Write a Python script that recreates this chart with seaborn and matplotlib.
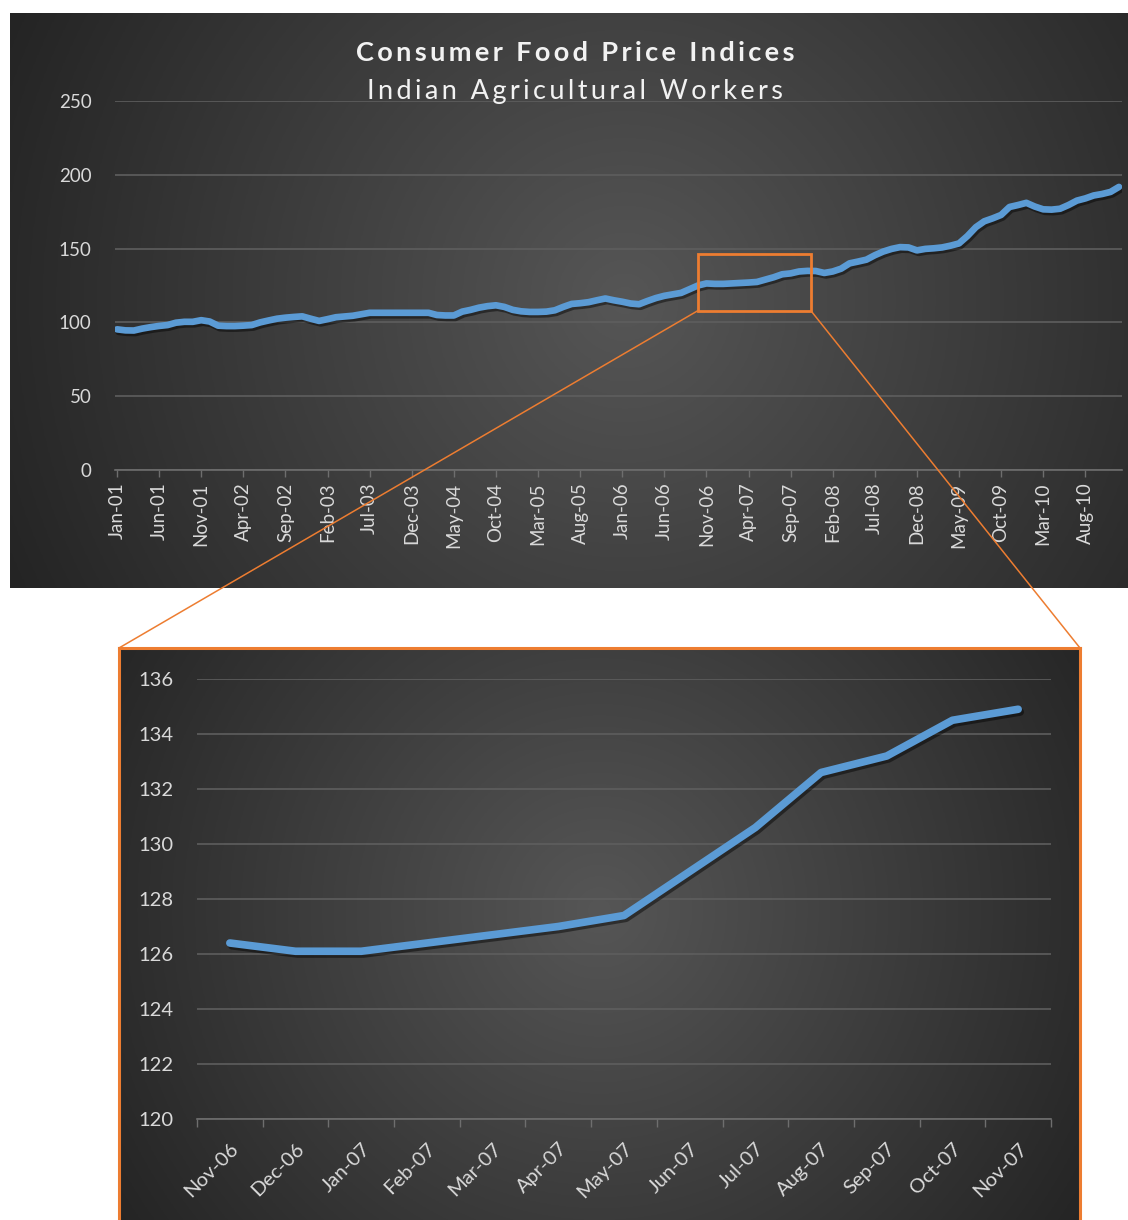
import numpy as np
import pandas as pd
import matplotlib
matplotlib.use('Agg')
import matplotlib.pyplot as plt
import seaborn as sns
from matplotlib.patches import Rectangle, ConnectionPatch
import matplotlib.patheffects as pe

# ---------------- data ----------------
months = pd.date_range('2001-01-01', periods=120, freq='MS')
month_labels = [d.strftime('%b-%y') for d in months]
index_values = [
    95.3, 94.6, 94.5, 95.8, 96.8, 97.6, 98.2, 99.8, 100.4, 100.4, 101.5, 100.6,
    97.8, 97.5, 97.5, 97.8, 98.2, 100.0, 101.3, 102.5, 103.2, 103.7, 104.1, 102.5,
    101.0, 102.2, 103.5, 104.0, 104.5, 105.5, 106.5, 106.5, 106.5, 106.5, 106.5, 106.5,
    106.5, 106.5, 105.0, 104.7, 104.7, 107.3, 108.5, 110.0, 111.0, 111.6, 110.5, 108.5,
    107.5, 107.1, 107.1, 107.3, 108.2, 110.5, 112.5, 113.0, 113.7, 115.0, 116.2, 115.0,
    114.0, 112.8, 112.3, 114.5, 116.5, 118.0, 119.0, 120.0, 122.5, 125.0, 126.4, 126.1,
    126.1, 126.4, 126.7, 127.0, 127.4, 129.0, 130.6, 132.6, 133.2, 134.5, 134.9, 134.8,
    133.5, 134.5, 136.4, 140.0, 141.2, 142.5, 145.5, 148.0, 149.8, 151.0, 150.8, 148.8,
    149.8, 150.2, 150.8, 152.0, 153.5, 158.5, 164.5, 168.5, 170.5, 172.8, 178.2, 179.5,
    181.0, 178.5, 176.6, 176.4, 177.0, 179.5, 182.5, 184.0, 186.0, 187.0, 188.4, 191.8,
]
zoom_labels = ['Nov-06', 'Dec-06', 'Jan-07', 'Feb-07', 'Mar-07', 'Apr-07', 'May-07',
               'Jun-07', 'Jul-07', 'Aug-07', 'Sep-07', 'Oct-07', 'Nov-07']
zoom_values = [126.4, 126.1, 126.1, 126.4, 126.7, 127.0, 127.4,
               129.0, 130.6, 132.6, 133.2, 134.5, 134.9]
main_title = 'Consumer Food Price Indices'
sub_title = 'Indian Agricultural Workers'
top_yticks = [0, 50, 100, 150, 200, 250]
zoom_yticks = [120, 122, 124, 126, 128, 130, 132, 134, 136]

df_main = pd.DataFrame({'pos': np.arange(len(index_values)), 'value': index_values})
df_zoom = pd.DataFrame({'pos': np.arange(len(zoom_values)), 'value': zoom_values})

# ---------------- style ----------------
sns.set_style('dark')
plt.rcParams['font.family'] = ['Lato', 'DejaVu Sans']
LINE = '#5B9BD5'
ORANGE = '#ED7D31'
TXT = '#D9D9D9'
GRID = '#5E5E5E'

W, H = 1128, 1220
fig = plt.figure(figsize=(W / 100, H / 100), dpi=100)
fig.patch.set_facecolor('white')


def fx(px):
    return px / W


def fy(py):
    return 1 - py / H


def spaced(s):
    # emulate the wide character spacing of the original title
    return '\u2009'.join(s)


def radial_bg(ax, wpx, hpx, cx=0.55, cy=0.5, c_center=0x56, c_edge=0x24):
    n = 300
    yy, xx = np.mgrid[0:1:n * 1j, 0:1:n * 1j]
    dx = (xx - cx) * wpx
    dy = (yy - cy) * hpx
    r = np.sqrt(dx ** 2 + dy ** 2)
    r = r / np.sqrt((max(cx, 1 - cx) * wpx) ** 2 + (max(cy, 1 - cy) * hpx) ** 2)
    v = (c_center * (1 - r) + c_edge * r) / 255.0
    img = np.dstack([v, v, v])
    ax.imshow(img, extent=[0, 1, 0, 1], aspect='auto', origin='upper')
    ax.set_xlim(0, 1)
    ax.set_ylim(0, 1)
    ax.set_xticks([])
    ax.set_yticks([])


# ---------------- top panel background ----------------
bg1 = fig.add_axes([fx(10), fy(588), fx(1118), 575 / H])
radial_bg(bg1, 1118, 575, cx=0.55, cy=0.5)
for s in bg1.spines.values():
    s.set_visible(False)

# ---------------- top chart ----------------
ax1 = fig.add_axes([fx(115), fy(470), fx(1122 - 115), (470 - 101) / H])
ax1.set_facecolor('none')
ax1.set_zorder(2)
sns.lineplot(data=df_main, x='pos', y='value', ax=ax1, color=LINE, lw=4.8,
             solid_capstyle='round', solid_joinstyle='round',
             path_effects=[pe.SimpleLineShadow(offset=(1.2, -1.8), shadow_color='black', alpha=0.45),
                           pe.Normal()])
ax1.set_xlim(-0.24, 119.36)
ax1.set_ylim(0, 250)
ax1.set_yticks(top_yticks)
ax1.set_yticklabels([str(t) for t in top_yticks], color=TXT, fontsize=13.5)
ax1.tick_params(axis='y', length=0, pad=17)
xt = np.arange(0, 120, 5)
ax1.set_xticks(xt)
ax1.set_xticklabels([month_labels[i] for i in xt], rotation=90, color=TXT, fontsize=13.5)
ax1.tick_params(axis='x', length=5, width=1, color='#6E6E6E', pad=4, bottom=True)
ax1.grid(axis='y', color=GRID, lw=1.2)
ax1.grid(axis='x', visible=False)
ax1.set_xlabel('')
ax1.set_ylabel('')
for k, s in ax1.spines.items():
    s.set_visible(k == 'bottom')
ax1.spines['bottom'].set_color('#6E6E6E')
ax1.spines['bottom'].set_linewidth(1.2)

box_x0, box_x1 = 69.0, 82.4
box_y0, box_y1 = 108.0, 146.6
ax1.add_patch(Rectangle((box_x0, box_y0), box_x1 - box_x0, box_y1 - box_y0,
                        fill=False, edgecolor=ORANGE, lw=2, zorder=5))

fig.text(fx(575), fy(53), spaced(main_title), ha='center', va='center', color='#F2F2F2',
         fontsize=19.5, fontweight='bold', zorder=10)
fig.text(fx(575), fy(92), spaced(sub_title), ha='center', va='center', color='#F2F2F2',
         fontsize=19.5, zorder=10)

# ---------------- inset panel ----------------
bg2 = fig.add_axes([fx(119), -0.01, fx(1080 - 119), fy(648) + 0.01])
radial_bg(bg2, 961, 590, cx=0.5, cy=0.45)
for k, s in bg2.spines.items():
    s.set_color(ORANGE)
    s.set_linewidth(2.2)
bg2.spines['bottom'].set_visible(False)

ax2 = fig.add_axes([fx(197), fy(1119), fx(1051 - 197), (1119 - 679) / H])
ax2.set_facecolor('none')
ax2.set_zorder(2)
sns.lineplot(data=df_zoom, x='pos', y='value', ax=ax2, color=LINE, lw=5.5,
             solid_capstyle='round', solid_joinstyle='round',
             path_effects=[pe.SimpleLineShadow(offset=(1.5, -2), shadow_color='black', alpha=0.45),
                           pe.Normal()])
ax2.set_xlim(-0.5, len(zoom_values) - 0.5)
ax2.set_ylim(120, 136)
ax2.set_yticks(zoom_yticks)
ax2.set_yticklabels([str(t) for t in zoom_yticks], color=TXT, fontsize=14.5)
ax2.tick_params(axis='y', length=0, pad=17)
ax2.set_xticks(np.arange(-0.5, len(zoom_values), 1.0))
ax2.set_xticklabels([])
ax2.tick_params(axis='x', which='major', length=6, width=1, color='#6E6E6E', bottom=True)
ax2.set_xticks(np.arange(len(zoom_values)), minor=True)
ax2.set_xticklabels(zoom_labels, minor=True, rotation=45, ha='right',
                    rotation_mode='anchor', color=TXT, fontsize=14.5)
ax2.tick_params(axis='x', which='minor', length=0, pad=15, bottom=True)
ax2.grid(axis='y', color=GRID, lw=1.2)
ax2.grid(axis='x', visible=False)
ax2.set_xlabel('')
ax2.set_ylabel('')
for k, s in ax2.spines.items():
    s.set_visible(k == 'bottom')
ax2.spines['bottom'].set_color('#6E6E6E')
ax2.spines['bottom'].set_linewidth(1.2)

# ---------------- connector lines ----------------
for xa, xb in [(box_x0, 0.0), (box_x1, 1.0)]:
    cp = ConnectionPatch(xyA=(xa, box_y0), coordsA=ax1.transData,
                         xyB=(xb, 1.0), coordsB=bg2.transAxes,
                         color=ORANGE, lw=1.1, zorder=20)
    fig.add_artist(cp)

fig.savefig('out.png', dpi=100, facecolor='white')
